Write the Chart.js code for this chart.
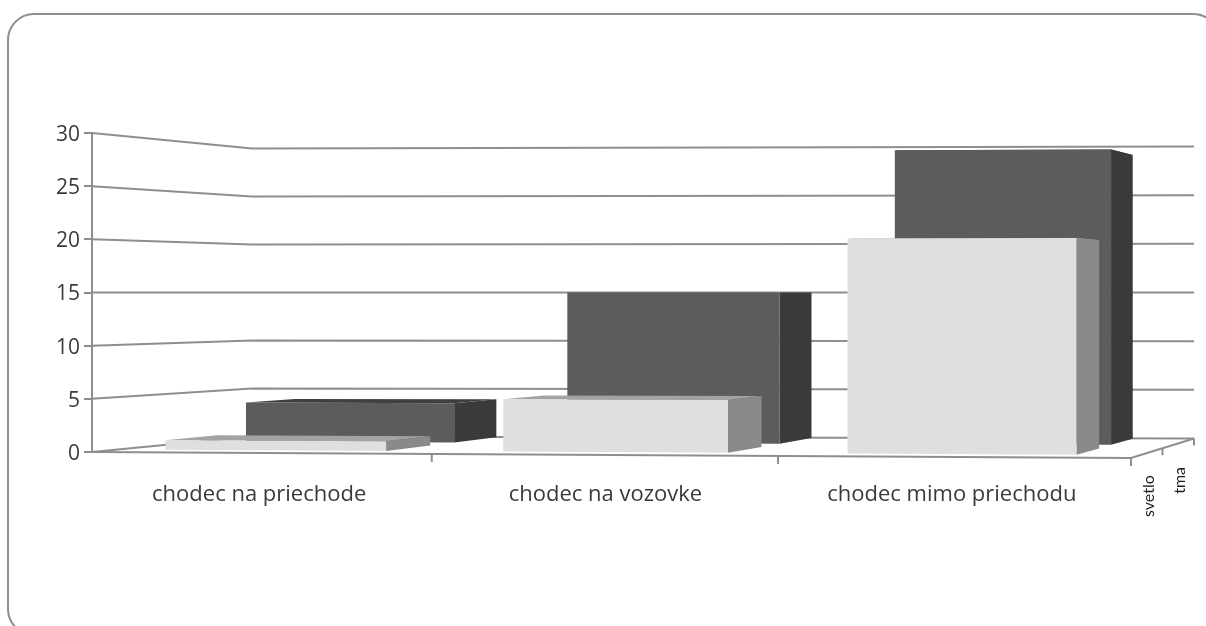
<!DOCTYPE html>
<html>
<head>
<meta charset="utf-8">
<title>Chodci</title>
<script src="https://cdn.jsdelivr.net/npm/chart.js@4/dist/chart.umd.min.js"></script>
<style>
  html, body { margin: 0; padding: 0; background: #fff; }
  canvas { display: block; }
</style>
</head>
<body>
<canvas id="grafico" width="1206" height="626"></canvas>
<script>
const categorias = ['chodec na priechode', 'chodec na vozovke', 'chodec mimo priechodu'];
const svetlo = [1, 5, 20];
const tma = [4, 15, 29];
const ticksY = [0, 5, 10, 15, 20, 25, 30];

const FUENTE = '"Open Sans", sans-serif';
const GRIS_LINEA = '#8e8e8e';

// floor of the 3D box on screen: front-left, front-right, back-right, back-left
const SUELO = [[92, 452], [1131, 458], [1194, 438.5], [252, 436.5]];
const VALOR_HORIZONTE = 15; // this value stays on the same height at any depth
const PERSPECTIVA_U = 0.029; // categories get a bit wider to the right

// depth range of each row of bars, 0 = front, 1 = back
const FILAS = [
  { d0: 0.10, d1: 0.43, frente: '#dfdfdf', lado: '#8a8a8a', tapa: '#a3a3a3' },
  { d0: 0.615, d1: 0.93, frente: '#5c5c5c', lado: '#3a3a3a', tapa: '#404040' }
];

function suelo(u, d) {
  const t = u / (1 + PERSPECTIVA_U * (1 - u));
  const [a, b, c, e] = SUELO;
  const frente = [a[0] + (b[0] - a[0]) * t, a[1] + (b[1] - a[1]) * t];
  const fondo = [e[0] + (c[0] - e[0]) * t, e[1] + (c[1] - e[1]) * t];
  return [frente[0] + (fondo[0] - frente[0]) * d, frente[1] + (fondo[1] - frente[1]) * d];
}

// u: 0-1 along the x axis, d: depth, py: pixel of the value on the y scale
function punto(chart, u, d, py) {
  const escala = chart.scales.y;
  const hor = escala.getPixelForValue(VALOR_HORIZONTE);
  const base = escala.getPixelForValue(0);
  const [x, yS] = suelo(u, d);
  return [x, hor + (yS - hor) * (py - hor) / (base - hor)];
}

function poligono(ctx, puntos, relleno) {
  ctx.beginPath();
  puntos.forEach((p, i) => i ? ctx.lineTo(p[0], p[1]) : ctx.moveTo(p[0], p[1]));
  ctx.closePath();
  ctx.fillStyle = relleno;
  ctx.fill();
}

function linea(ctx, puntos) {
  ctx.beginPath();
  puntos.forEach((p, i) => i ? ctx.lineTo(p[0], p[1]) : ctx.moveTo(p[0], p[1]));
  ctx.stroke();
}

const caja3d = {
  id: 'caja3d',
  beforeDraw(chart) {
    const ctx = chart.ctx;
    // rounded frame, runs off the right and bottom of the canvas
    ctx.save();
    ctx.strokeStyle = GRIS_LINEA;
    ctx.lineWidth = 2;
    ctx.beginPath();
    ctx.roundRect(8, 14, 1211, 621, 26);
    ctx.stroke();
    ctx.restore();
  },
  beforeDatasetsDraw(chart) {
    const ctx = chart.ctx;
    const esc = chart.scales.y;
    const { left, width } = chart.chartArea;
    ctx.save();
    ctx.strokeStyle = GRIS_LINEA;
    ctx.lineWidth = 2;

    // gridlines go along the left wall and then the back wall
    ticksY.forEach(v => {
      const py = esc.getPixelForValue(v);
      linea(ctx, [punto(chart, 0, 0, py), punto(chart, 0, 1, py), punto(chart, 1, 1, py)]);
    });

    // floor edges and tick marks
    const py0 = esc.getPixelForValue(0);
    linea(ctx, [punto(chart, 0, 0, py0), punto(chart, 1, 0, py0), punto(chart, 1, 1, py0)]);
    categorias.forEach((c, i) => {
      const u = (i + 1) / categorias.length;
      const p = punto(chart, u, 0, py0);
      linea(ctx, [p, [p[0], p[1] + 8]]);
    });
    [0.5, 1].forEach(d => {
      const p = punto(chart, 1, d, py0);
      linea(ctx, [p, [p[0], p[1] + 7]]);
    });

    // back row first so the front row covers it
    [1, 0].forEach(i => {
      const fila = FILAS[i];
      chart.getDatasetMeta(i).data.forEach(el => {
        const u0 = (el.x - el.width / 2 - left) / width;
        const u1 = (el.x + el.width / 2 - left) / width;
        const { d0, d1 } = fila;
        poligono(ctx, [punto(chart, u0, d0, el.y), punto(chart, u1, d0, el.y),
          punto(chart, u1, d1, el.y), punto(chart, u0, d1, el.y)], fila.tapa);
        poligono(ctx, [punto(chart, u1, d0, el.y), punto(chart, u1, d1, el.y),
          punto(chart, u1, d1, el.base), punto(chart, u1, d0, el.base)], fila.lado);
        poligono(ctx, [punto(chart, u0, d0, el.y), punto(chart, u1, d0, el.y),
          punto(chart, u1, d0, el.base), punto(chart, u0, d0, el.base)], fila.frente);
      });
    });

    // series names stand on the depth axis
    ctx.fillStyle = '#1c1c1c';
    ctx.font = '16px Lato, ' + FUENTE;
    ctx.textAlign = 'center';
    ctx.textBaseline = 'middle';
    [[chart.data.datasets[0].label, 0.25, 43], [chart.data.datasets[1].label, 0.75, 37]].forEach(([txt, d, bajar]) => {
      const p = punto(chart, 1, d, py0);
      ctx.save();
      ctx.translate(p[0] + 2, p[1] + bajar);
      ctx.rotate(-Math.PI / 2);
      ctx.fillText(txt, 0, 0);
      ctx.restore();
    });
    ctx.restore();
    return false; // the flat bars are replaced by the boxes above
  }
};

new Chart(document.getElementById('grafico'), {
  type: 'bar',
  data: {
    labels: categorias,
    datasets: [
      { label: 'svetlo', data: svetlo, backgroundColor: '#dfdfdf', barPercentage: 0.655 },
      { label: 'tma', data: tma, backgroundColor: '#5c5c5c', barPercentage: 0.65 }
    ]
  },
  options: {
    responsive: false,
    animation: false,
    layout: { padding: { top: 133, right: 75, bottom: 0, left: 0 } },
    plugins: { legend: { display: false }, tooltip: { enabled: false } },
    datasets: { bar: { grouped: false, categoryPercentage: 1 } },
    scales: {
      x: {
        afterFit: s => { s.height = 174; },
        grid: { display: false },
        border: { display: false },
        ticks: {
          color: '#3a3a3a',
          font: { size: 22, family: FUENTE },
          maxRotation: 0,
          padding: 22,
          labelOffset: -6
        }
      },
      y: {
        min: 0,
        max: 30,
        afterFit: s => { s.width = 92; },
        afterBuildTicks: s => { s.ticks = ticksY.map(v => ({ value: v })); },
        grid: { drawOnChartArea: false, color: GRIS_LINEA, lineWidth: 2, tickLength: 8 },
        border: { color: GRIS_LINEA, width: 2 },
        ticks: {
          color: '#3a3a3a',
          font: { size: 21, family: FUENTE },
          padding: 4,
          labelOffset: 2
        }
      }
    }
  },
  plugins: [caja3d]
});
</script>
</body>
</html>
